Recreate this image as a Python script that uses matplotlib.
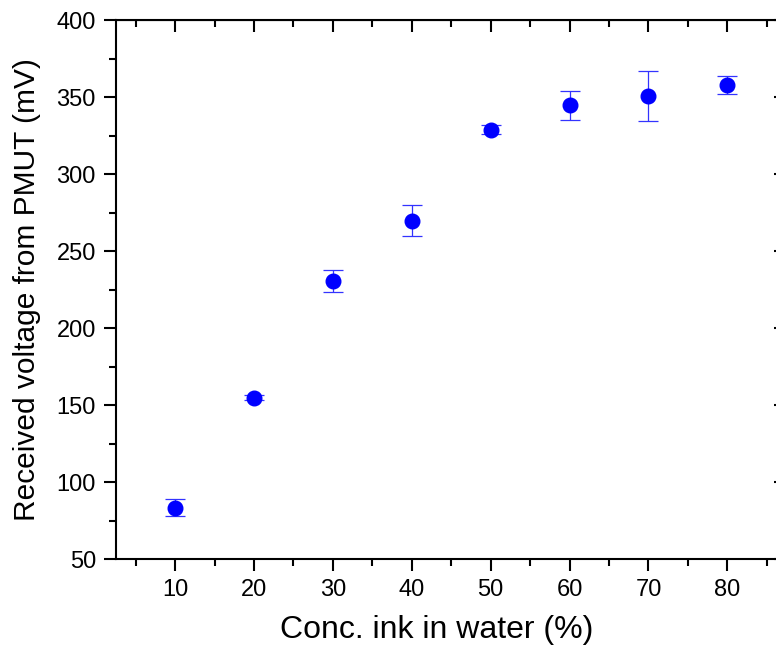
import numpy as np
import matplotlib
matplotlib.use("Agg")
import matplotlib.pyplot as plt
from matplotlib.ticker import MultipleLocator

# ink concentration vs received PMUT voltage
conc = [10, 20, 30, 40, 50, 60, 70, 80]
voltage = [83.2, 154.7, 230.6, 269.6, 328.9, 344.6, 350.6, 357.6]
err = [5.5, 1.5, 6.9, 10.1, 2.9, 9.2, 16.0, 5.8]

plt.rcParams['font.family'] = ['Liberation Sans', 'DejaVu Sans']

fig = plt.figure(figsize=(7.76, 6.47), dpi=100)
ax = fig.add_axes([0.1495, 0.136, 0.864, 0.833])

ax.errorbar(conc, voltage, yerr=err, fmt='o', color='#0000ff', ms=10.5,
            elinewidth=0.9, capsize=7.5, capthick=0.9, ecolor='#3333ff')

ax.set_xlim(2.5, 87.5)
ax.set_ylim(50, 400)
ax.xaxis.set_major_locator(MultipleLocator(10))
ax.xaxis.set_minor_locator(MultipleLocator(5))
ax.yaxis.set_major_locator(MultipleLocator(50))
ax.yaxis.set_minor_locator(MultipleLocator(25))

for s in ax.spines.values():
    s.set_linewidth(1.5)

ax.tick_params(which='major', length=8.5, width=1.5, labelsize=17, pad=6)
ax.tick_params(which='minor', length=5, width=1.5)
# mirrored ticks on top/right point inward
axt = ax.secondary_xaxis('top')
axt.xaxis.set_major_locator(MultipleLocator(10))
axt.xaxis.set_minor_locator(MultipleLocator(5))
axt.tick_params(which='major', direction='in', length=8.5, width=1.5, labeltop=False)
axt.tick_params(which='minor', direction='in', length=5, width=1.5)
axr = ax.secondary_yaxis('right')
axr.yaxis.set_major_locator(MultipleLocator(50))
axr.yaxis.set_minor_locator(MultipleLocator(25))
axr.tick_params(which='major', direction='in', length=8.5, width=1.5, labelright=False)
axr.tick_params(which='minor', direction='in', length=5, width=1.5)

ax.set_xlabel('Conc. ink in water (%)', fontsize=23)
ax.xaxis.set_label_coords(0.479, -0.104, transform=ax.transAxes)
ax.xaxis.label.set_verticalalignment('top')
ax.set_ylabel('Received voltage from PMUT (mV)', fontsize=21.5, labelpad=11)

fig.savefig('out.png', dpi=100)
